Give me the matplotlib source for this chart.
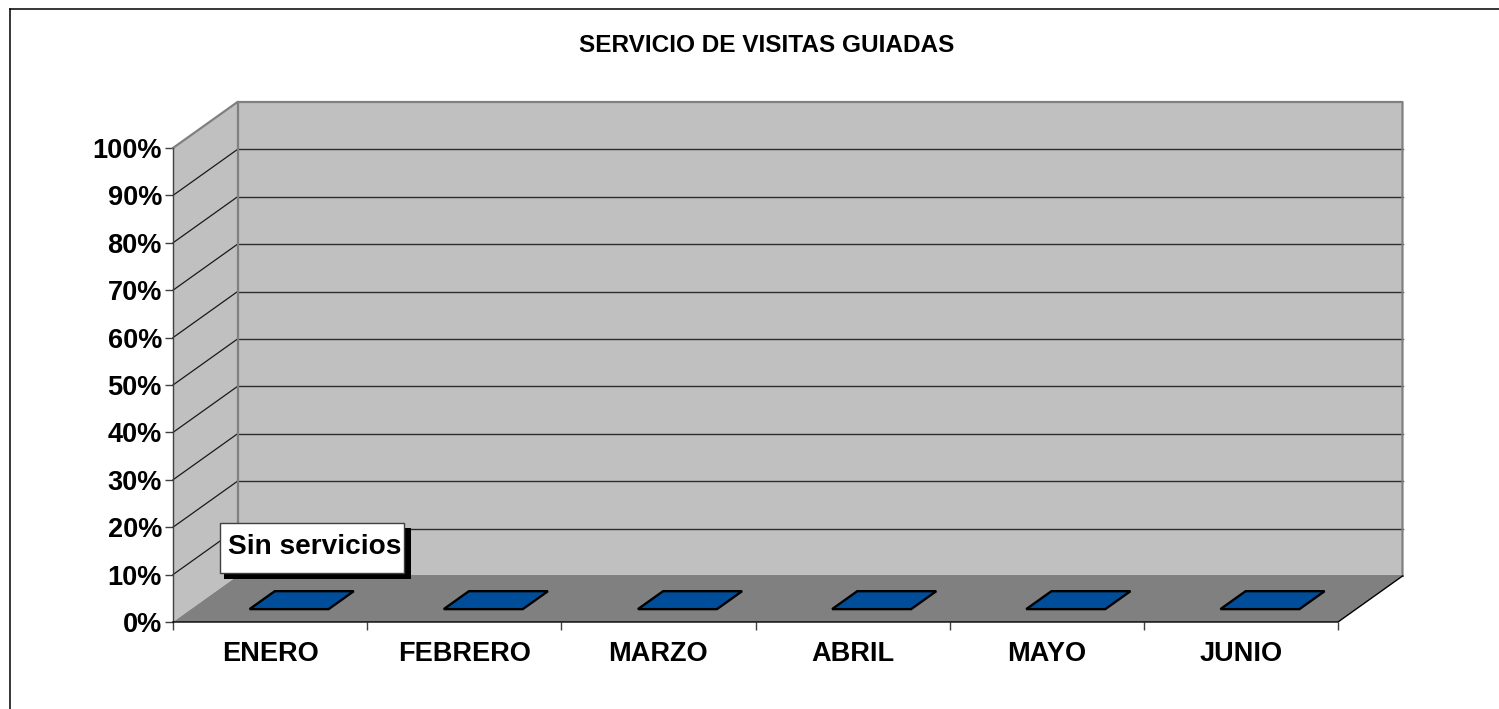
import matplotlib
matplotlib.use("Agg")
import matplotlib.pyplot as plt
from matplotlib.patches import Polygon, Rectangle
from matplotlib.lines import Line2D

plt.rcParams['font.family'] = ['Liberation Sans', 'DejaVu Sans']

title = "SERVICIO DE VISITAS GUIADAS"
months = ["ENERO", "FEBRERO", "MARZO", "ABRIL", "MAYO", "JUNIO"]
values = [0, 0, 0, 0, 0, 0]
y_ticks = [0, 10, 20, 30, 40, 50, 60, 70, 80, 90, 100]
note = "Sin servicios"

W, H = 1499, 709
fig = plt.figure(figsize=(W / 100, H / 100), dpi=100, facecolor="white")
L, B, R, T = 173, 622, 1338, 148
ax = fig.add_axes([L / W, (H - B) / H, (R - L) / W, (B - T) / H])
n = len(months)
ax.set_xlim(0, n)
ax.set_ylim(0, 100)
for s in ax.spines.values():
    s.set_visible(False)
ax.patch.set_visible(False)

# oblique depth, expressed in data units per full depth
px_x = (R - L) / n
px_y = (B - T) / 100
DX = 64.5 / px_x
DY = 46.0 / px_y


def P(x, y, d=0.0):
    return (x + d * DX, y + d * DY)


def poly(pts, **kw):
    p = Polygon(pts, closed=True, clip_on=False, **kw)
    ax.add_patch(p)
    return p


WALL = "#c0c0c0"
FLOOR = "#808080"
EDGE = "#808080"
# side wall, back wall, floor
poly([P(0, 0), P(0, 0, 1), P(0, 100, 1), P(0, 100)], fc=WALL, ec="none", zorder=1)
poly([P(0, 0, 1), P(n, 0, 1), P(n, 100, 1), P(0, 100, 1)], fc=WALL, ec="none", zorder=1)
poly([P(0, 0), P(n, 0), P(n, 0, 1), P(0, 0, 1)], fc=FLOOR, ec="none", zorder=2)

# gridlines
for v in y_ticks[1:-1]:
    ax.plot(*zip(P(0, v), P(0, v, 1)), color="#1a1a1a", lw=0.9, clip_on=False, zorder=3)
    ax.plot(*zip(P(0, v, 1), P(n, v, 1)), color="#2c2c2c", lw=1.0, clip_on=False, zorder=3)
# wall borders
ax.plot(*zip(P(0, 100), P(0, 100, 1), P(n, 100, 1), P(n, 0, 1)), color=EDGE, lw=1.6, clip_on=False, zorder=3)
ax.plot(*zip(P(0, 0, 1), P(0, 100, 1)), color=EDGE, lw=1.6, clip_on=False, zorder=3)
ax.plot(*zip(P(0, 0, 1), P(n, 0, 1)), color=EDGE, lw=1.4, clip_on=False, zorder=2.5)
ax.plot(*zip(P(0, 0), P(0, 100)), color="#404040", lw=1.0, clip_on=False, zorder=4)
ax.plot(*zip(P(0, 0), P(n, 0), P(n, 0, 1)), color="#000000", lw=1.0, clip_on=False, zorder=4)

# bars (flat at value zero)
bw = 0.407
d0, d1 = 0.28, 0.67
for i, v in enumerate(values):
    c = i + 0.5 + 0.005
    a, b = c - bw / 2, c + bw / 2
    poly([P(a, v, d0), P(b, v, d0), P(b, v, d1), P(a, v, d1)],
         fc="#004d9a", ec="black", lw=1.7, zorder=5)

ax.set_yticks(y_ticks)
ax.set_yticklabels([f"{v}%" for v in y_ticks], va="center_baseline")
ax.set_xticks(range(n + 1))
ax.set_xticklabels([])
ax.set_xticks([i + 0.5 for i in range(n)], labels=months, minor=True)
ax.tick_params(axis="y", length=6, width=1, color="#404040", pad=2, labelsize=19.5)
for t in ax.get_yticklabels():
    t.set_fontweight("bold")
ax.tick_params(axis="x", which="major", length=6, width=1, color="#404040")
ax.tick_params(axis="x", which="minor", length=0, pad=14, labelsize=19.5)
for t in ax.get_xticklabels(minor=True):
    t.set_fontweight("bold")

# data label with hard shadow
fig.patches.append(Rectangle((224 / W, 1 - 578.5 / H), 187 / W, 51 / H, transform=fig.transFigure, fc="black", ec="none", zorder=6))
fig.patches.append(Rectangle((220 / W, 1 - 572.5 / H), 184 / W, 50 / H, transform=fig.transFigure, fc="white", ec="#404040", lw=1, zorder=7))
fig.text(314.5 / W, 1 - 547.5 / H, note, ha="center", va="center", fontsize=20.2, fontweight="bold", zorder=8)

fig.text(767 / W, 1 - 45.5 / H, title, ha="center", va="center", fontsize=17.6, fontweight="bold")

# outer frame: only the top and left edges show
fig.add_artist(Line2D([9.5 / W, 9.5 / W], [0, 1 - 9 / H], color="black", lw=1.1))
fig.add_artist(Line2D([9.5 / W, 1], [1 - 9 / H, 1 - 9 / H], color="black", lw=1.1))

fig.savefig("out.png", dpi=100)
